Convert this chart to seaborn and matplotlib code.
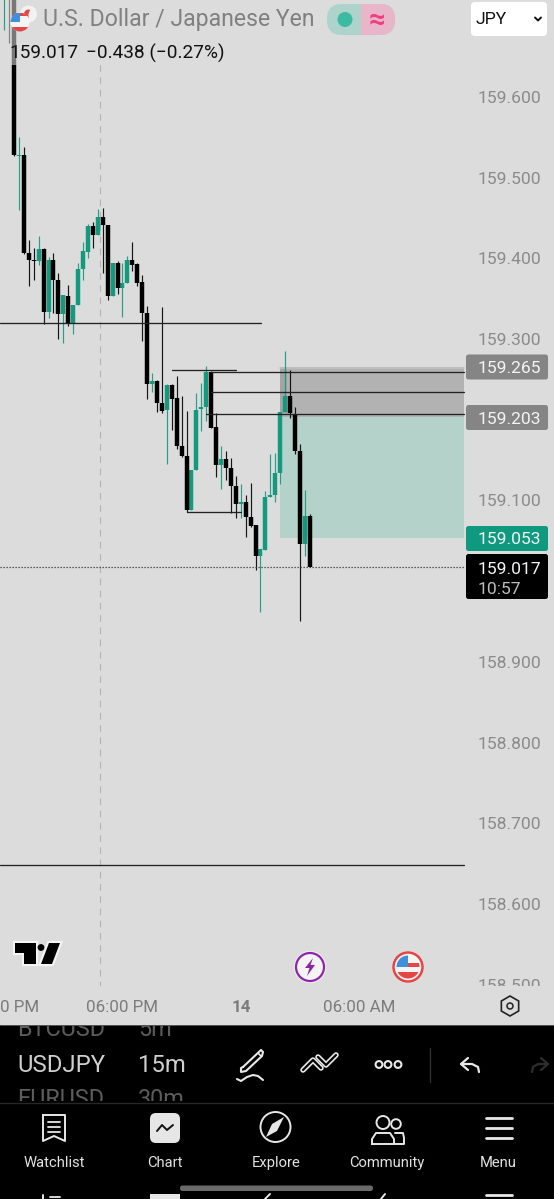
import matplotlib
matplotlib.use('Agg')
import matplotlib.pyplot as plt
import matplotlib.patheffects as pe
from matplotlib.patches import Rectangle, Circle, FancyBboxPatch, Polygon, RegularPolygon, Wedge
import pandas as pd
import seaborn as sns

BG = '#dcdcdc'
GREEN = '#14997f'
BLACK = '#000000'

# 15m candles, oldest first
opens = [159.73, 159.75,
         159.735, 159.527, 159.528, 159.407, 159.398, 159.397, 159.412, 159.334, 159.398, 159.373,
         159.331, 159.353, 159.320, 159.342, 159.387, 159.408, 159.440, 159.429, 159.451, 159.441,
         159.353, 159.394, 159.363, 159.370, 159.398, 159.393, 159.371, 159.332, 159.244, 159.248,
         159.221, 159.212, 159.243, 159.227, 159.168, 159.155, 159.088, 159.138, 159.213, 159.216,
         159.259, 159.191, 159.144, 159.151, 159.140, 159.118, 159.096, 159.098, 159.080, 159.070,
         159.031, 159.039, 159.104, 159.107, 159.134, 159.210, 159.230, 159.207, 159.161, 159.046,
         159.081]
highs = [159.76, 159.76,
         159.75, 159.550, 159.538, 159.423, 159.413, 159.428, 159.413, 159.402, 159.407, 159.382,
         159.355, 159.367, 159.342, 159.394, 159.420, 159.443, 159.445, 159.461, 159.462, 159.441,
         159.394, 159.397, 159.394, 159.403, 159.420, 159.394, 159.379, 159.341, 159.258, 159.249,
         159.340, 159.244, 159.244, 159.254, 159.230, 159.211, 159.138, 159.233, 159.246, 159.267,
         159.261, 159.208, 159.168, 159.161, 159.153, 159.130, 159.121, 159.107, 159.122, 159.070,
         159.040, 159.112, 159.158, 159.159, 159.210, 159.285, 159.262, 159.216, 159.170, 159.113,
         159.083]
lows = [159.683, 159.667,
        159.527, 159.460, 159.405, 159.366, 159.373, 159.392, 159.319, 159.326, 159.332, 159.300,
        159.295, 159.316, 159.306, 159.342, 159.373, 159.401, 159.413, 159.429, 159.382, 159.348,
        159.353, 159.356, 159.327, 159.370, 159.384, 159.366, 159.298, 159.226, 159.234, 159.210,
        159.208, 159.145, 159.187, 159.164, 159.154, 159.086, 159.088, 159.138, 159.186, 159.199,
        159.190, 159.129, 159.114, 159.125, 159.085, 159.078, 159.078, 159.055, 159.067, 159.014,
        158.962, 159.039, 159.104, 159.098, 159.121, 159.210, 159.202, 159.158, 158.951, 159.031,
        159.017]
closes = [159.74, 159.735,
          159.528, 159.528, 159.407, 159.398, 159.397, 159.412, 159.334, 159.398, 159.373, 159.331,
          159.355, 159.319, 159.342, 159.387, 159.409, 159.440, 159.429, 159.451, 159.441, 159.353,
          159.394, 159.363, 159.370, 159.398, 159.392, 159.370, 159.332, 159.244, 159.248, 159.221,
          159.211, 159.243, 159.226, 159.168, 159.155, 159.088, 159.138, 159.212, 159.216, 159.259,
          159.190, 159.144, 159.151, 159.140, 159.118, 159.096, 159.098, 159.080, 159.068, 159.031,
          159.040, 159.104, 159.107, 159.134, 159.210, 159.230, 159.208, 159.161, 159.046, 159.081,
          159.017]

price_ticks = [159.6, 159.5, 159.4, 159.3, 159.1, 158.9, 158.8, 158.7, 158.6, 158.5]

# drawn levels: price, first bar, last bar
level_prices = [159.320, 159.262, 159.259, 159.234, 159.207, 159.086, 158.648]
level_starts = [-2.9, 32, 40, 40, 39, 35, -2.9]
level_ends = [50.1, 45, 91.3, 91.3, 91.3, 46, 91.3]

zone_top, zone_mid, zone_bottom = 159.265, 159.203, 159.053
tag_labels = ['159.265', '159.203', '159.053']
last_price = 159.017
time_labels = ['0 PM', '06:00 PM', '14', '06:00 AM']
nav_labels = ['Watchlist', 'Chart', 'Explore', 'Community', 'Menu']

sns.set_theme(style='white', rc={'axes.facecolor': BG, 'figure.facecolor': BG})
plt.rcParams['font.family'] = ['Roboto', 'DejaVu Sans']

fig = plt.figure(figsize=(5.54, 11.99), dpi=100)
W, H = 554, 1199
CHART_W, CHART_H = 465, 988

ax = fig.add_axes([0, 1 - CHART_H / H, CHART_W / W, CHART_H / H])
ax.set_xlim(-14 / 4.93, (CHART_W - 14) / 4.93)
ax.set_ylim(159.6 - (CHART_H - 97) / 807, 159.6 + 97 / 807)

idx = list(range(-2, len(opens) - 2))
candles = pd.DataFrame({'idx': idx, 'open': opens, 'high': highs, 'low': lows, 'close': closes})
candles['up'] = candles['close'] >= candles['open']

wicks = candles.melt(id_vars=['idx', 'up'], value_vars=['high', 'low'], value_name='price')
bodies = candles.melt(id_vars=['idx', 'up'], value_vars=['open', 'close'], value_name='price')

# zones under everything
zx = [53.9, 91.3]
ax.fill_between(zx, zone_mid, zone_top, color='#b2b2b2', lw=0, zorder=1)
ax.fill_between(zx, zone_bottom, zone_mid, color='#b5d2ca', lw=0, zorder=1)
ax.fill_between([53.9, 55.3], zone_mid + 0.005, zone_top, color='#a4a4a4', lw=0, zorder=1)
ax.plot(zx, [zone_top - 0.001] * 2, color='#c0c0c0', lw=1.2, zorder=1)
ax.plot([17.4, 17.4], [ax.get_ylim()[0], 159.65], color='#b4b4b4', lw=0.8, ls=(0, (6, 5)), zorder=1)

for subset, colour in [(True, GREEN), (False, BLACK)]:
    w = wicks[wicks['up'] == subset]
    b = bodies[bodies['up'] == subset]
    sns.lineplot(data=w, x='idx', y='price', units='idx', estimator=None, sort=False, ax=ax,
                 color=colour, lw=0.85, solid_capstyle='butt', alpha=0.9, legend=False, zorder=3)
    sns.lineplot(data=b, x='idx', y='price', units='idx', estimator=None, sort=False, ax=ax,
                 color=colour, lw=3.2, solid_capstyle='butt', legend=False, zorder=4)

for p, a, b in zip(level_prices, level_starts, level_ends):
    ax.plot([a, b], [p, p], color='#222222', lw=0.95, zorder=5)
ax.plot([-2.9, 91.3], [last_price, last_price], color='#333333', lw=0.9, ls=(0, (1, 1.4)), zorder=5)

ax.set_xlabel('')
ax.set_ylabel('')
ax.set_xticks([])
ax.set_yticks(price_ticks)
ax.set_yticklabels([f'{t:.3f}' for t in price_ticks], fontsize=12.6, color='#8b8b8b')
ax.tick_params(axis='y', right=False, left=False, labelright=True, labelleft=False, pad=3)
sns.despine(ax=ax, left=True, bottom=True, right=True, top=True)

# screen furniture lives on a pixel-space overlay
ui = fig.add_axes([0, 0, 1, 1], zorder=5)
ui.set_xlim(0, W)
ui.set_ylim(H, 0)
ui.axis('off')
ui.patch.set_alpha(0)


def rbox(x0, y0, x1, y1, colour, r=3, **kw):
    p = FancyBboxPatch((x0 + r, y0 + r), x1 - x0 - 2 * r, y1 - y0 - 2 * r,
                       boxstyle=f'round,pad={r},rounding_size={r}', fc=colour, ec='none', **kw)
    ui.add_patch(p)
    return p


def stroke(xs, ys, colour='#e8e8e8', lw=1.5, **kw):
    ui.plot(xs, ys, color=colour, lw=lw, solid_capstyle='round', solid_joinstyle='round', **kw)


def clipped_text(x, y, s, box, **kw):
    t = ui.text(x, y, s, **kw)
    t.set_clip_path(Rectangle((box[0], box[1]), box[2], box[3], transform=ui.transData))
    return t


# header
ui.add_patch(Rectangle((8, 0), 222, 65, fc=BG, ec='none', alpha=0.55))
ui.add_patch(Circle((28.5, 14), 8.5, fc='#f2f2f2', ec='none'))
ui.add_patch(Wedge((28.5, 14), 4.5, 90, 290, fc='#e04848', ec='none'))
flag = Circle((20, 22), 9.5, fc='#f4f4f4', ec='none')
ui.add_patch(flag)
for sy in (13, 27):
    r = Rectangle((10, sy), 20, 5 if sy == 27 else 3, fc='#e04848', ec='none')
    ui.add_patch(r)
    r.set_clip_path(flag)
r = Rectangle((10, 13), 10, 9, fc='#3f8fdc', ec='none')
ui.add_patch(r)
r.set_clip_path(flag)
ui.text(43, 19.5, 'U.S. Dollar / Japanese Yen', fontsize=16.6, color='#808080', va='center', ha='left')
ui.text(9.5, 53.5, '159.017', fontsize=13.7, color='#111111', va='center', ha='left')
ui.text(86.5, 53.5, '\u22120.438 (\u22120.27%)', fontsize=13.7, color='#111111', va='center', ha='left')

# status pill
pill = rbox(327, 4, 395, 35, '#aed3cc', r=15)
right = Rectangle((361, 0), 40, 40, fc='#e9b6c9', ec='none')
ui.add_patch(right)
right.set_clip_path(pill)
ui.add_patch(Circle((345, 19.5), 7.5, fc='#3cbba2', ec='none'))
ui.text(377, 20, '\u2248', fontsize=21, color='#ef3f80', ha='center', va='center', fontweight='bold')

# currency selector
rbox(471, 2, 547, 36, '#ffffff', r=4)
ui.text(476, 19.5, 'JPY', fontsize=12.6, color='#111111', ha='left', va='center')
stroke([535, 538, 541], [17.5, 20.5, 17.5], colour='#111111', lw=1.4)

# price tags
tag_boxes = [(354.5, 379.5, '#858585'), (405, 430, '#858585'), (526, 551, '#0f9a80')]
for (y0, y1, c), lab in zip(tag_boxes, tag_labels):
    rbox(466, y0, 548, y1, c, r=2.5)
    ui.text(478, (y0 + y1) / 2 + 1.5, lab, fontsize=12.6, color='#f4f4f4', ha='left', va='center')
rbox(466, 554, 548, 599, '#000000', r=2.5)
ui.text(478, 569, f'{last_price:.3f}', fontsize=12.6, color='#f4f4f4', ha='left', va='center')
ui.text(478, 589, '10:57', fontsize=12.6, color='#bdbdbd', ha='left', va='center')

# time axis band hides the clipped 158.500 label from below
ui.add_patch(Rectangle((0, 986), W, 39, fc=BG, ec='none'))
for x, s in zip([20, 122, 241, 359], time_labels):
    ui.text(x, 1007.5, s, fontsize=12.2, color='#7b7b7b', ha='center', va='center',
            fontweight='bold' if s == '14' else 'normal')
ui.add_patch(RegularPolygon((510, 1006), 6, radius=10, fc='none', ec='#222222', lw=1.2))
ui.add_patch(Circle((510, 1006), 3, fc='none', ec='#222222', lw=1.1))

# TradingView mark
halo = [pe.withStroke(linewidth=3, foreground='#f5f5f5')]
ui.add_patch(Polygon([(15, 943), (36, 943), (36, 964), (24, 964), (24, 953), (15, 953)],
                     fc='#000000', ec='none', path_effects=halo))
ui.add_patch(Polygon([(49, 943), (60, 943), (52, 964), (41, 964)], fc='#000000', ec='none', path_effects=halo))
ui.add_patch(Circle((41, 947.5), 3.4, fc='#000000', ec='none'))

# event badges
ui.add_patch(Circle((310, 967), 16, fc='#f4f4f4', ec='none'))
ui.add_patch(Circle((310, 967), 14, fc='#f4f4f4', ec='#8e24aa', lw=1.6))
ui.add_patch(Polygon([(313, 958), (305, 968), (309.5, 968), (307, 976), (315, 965), (310.5, 965)],
                     fc='#8e24aa', ec='none'))
ui.add_patch(Circle((408, 967), 16, fc='#e8eaf0', ec='none'))
ui.add_patch(Circle((408, 967), 14.5, fc='#f4f4f4', ec='#e64545', lw=1.8))
inner = Circle((408, 967), 11.5, fc='none', ec='none')
ui.add_patch(inner)
for box, hh in [((408, 963), 4), ((396, 972), 8)]:
    r = Rectangle(box, 24, hh, fc='#e64545', ec='none')
    ui.add_patch(r)
    r.set_clip_path(inner)
r = Rectangle((396, 955), 12, 12, fc='#3f8fdc', ec='none')
ui.add_patch(r)
r.set_clip_path(inner)

# bottom app chrome
ui.add_patch(Rectangle((0, 1025), W, H - 1025, fc='#000000', ec='none'))
ui.plot([0, W], [1102.5, 1102.5], color='#262626', lw=1)
ui.plot([0, W], [1025, 1025], color='#555555', lw=0.7)

pick_box = (0, 1026, 220, 75)
clipped_text(17, 1029, 'BTCUSD', pick_box, fontsize=16.8, color='#5c5c5c', va='center', clip_on=True)
clipped_text(138, 1029, '5m', pick_box, fontsize=16.8, color='#5c5c5c', va='center', clip_on=True)
ui.text(17, 1066, 'USDJPY', fontsize=17.2, color='#cfcfcf', va='center')
ui.text(138, 1066, '15m', fontsize=17.2, color='#cfcfcf', va='center')
clipped_text(17, 1100, 'EURUSD', pick_box, fontsize=16.8, color='#5c5c5c', va='center', clip_on=True)
clipped_text(138, 1100, '30m', pick_box, fontsize=16.8, color='#5c5c5c', va='center', clip_on=True)

# toolbar icons
stroke([243, 261, 263, 262, 246, 241, 241, 243], [1067, 1050, 1052, 1056, 1071, 1072, 1068, 1067])
stroke([258, 261], [1053, 1056], lw=1.2)
stroke([237, 241, 247, 253, 258, 263], [1079, 1081, 1077, 1075, 1076, 1080])
stroke([303, 313, 321], [1070, 1060, 1068], lw=4, zorder=3)
stroke([318, 326, 336], [1057, 1065, 1055], lw=4, zorder=3)
stroke([303, 313, 321], [1070, 1060, 1068], colour='#000000', lw=1.6, zorder=4)
stroke([318, 326, 336], [1057, 1065, 1055], colour='#000000', lw=1.6, zorder=4)
for cx in (379, 388, 398):
    ui.add_patch(Circle((cx, 1064.5), 3.4, fc='none', ec='#e8e8e8', lw=1.5))
ui.plot([429.5, 429.5], [1048, 1082], color='#333333', lw=0.9)
stroke([468, 461, 468], [1058, 1064, 1070], lw=1.6)
stroke([461, 472, 478, 479], [1064, 1064, 1067, 1072], lw=1.6)
stroke([541, 548, 541], [1058, 1064, 1070], colour='#2e2e2e', lw=1.6)
stroke([548, 538, 533, 532], [1064, 1064, 1067, 1072], colour='#2e2e2e', lw=1.6)

# nav bar
for x, s in zip([54, 165, 276, 387, 498], nav_labels):
    ui.text(x, 1167, s, fontsize=10.6, color='#e2e2e2', ha='center', va='baseline')

stroke([43, 65, 65, 54, 43, 43], [1115, 1115, 1141, 1136, 1141, 1115], lw=1.4)
for ly in (1122, 1127, 1132):
    stroke([48, 60], [ly, ly], lw=1.3)
rbox(150, 1113, 180, 1143, '#e6e6e6', r=6)
stroke([157, 162, 167, 173], [1131, 1125, 1130, 1125], colour='#111111', lw=1.4)
ui.add_patch(Circle((275.5, 1127), 15, fc='none', ec='#e6e6e6', lw=1.4))
ui.add_patch(Polygon([(284, 1117), (277, 1131), (266, 1137), (272, 1124)], fc='#e6e6e6', ec='none'))
ui.add_patch(Circle((383, 1122.5), 6.5, fc='none', ec='#e6e6e6', lw=1.4))
ui.add_patch(Circle((396, 1124), 4.8, fc='none', ec='#e6e6e6', lw=1.4))
stroke([372, 372, 376, 390, 394, 394, 372], [1144, 1139, 1133, 1133, 1139, 1144, 1144], lw=1.4)
stroke([395, 403, 404, 404, 394], [1133, 1133, 1138, 1144, 1144], lw=1.4)
for ly in (1118, 1128, 1138):
    stroke([486, 512], [ly, ly], lw=2)

# gesture pill and the repeated bar peeking in below it
rbox(180, 1185.5, 373, 1191, '#6a6a6a', r=2.5)
stroke([43, 43], [1195, 1199], lw=1.4)
stroke([50, 60], [1197, 1197], lw=1.3)
ui.add_patch(Rectangle((150, 1194), 30, 6, fc='#e6e6e6', ec='none'))
stroke([486, 512], [1195, 1195], lw=2)
stroke([265, 270], [1199, 1194], lw=1.4)
stroke([381, 385], [1199, 1194], lw=1.4)

fig.savefig('out.png', dpi=100, facecolor=BG)
plt.close(fig)
